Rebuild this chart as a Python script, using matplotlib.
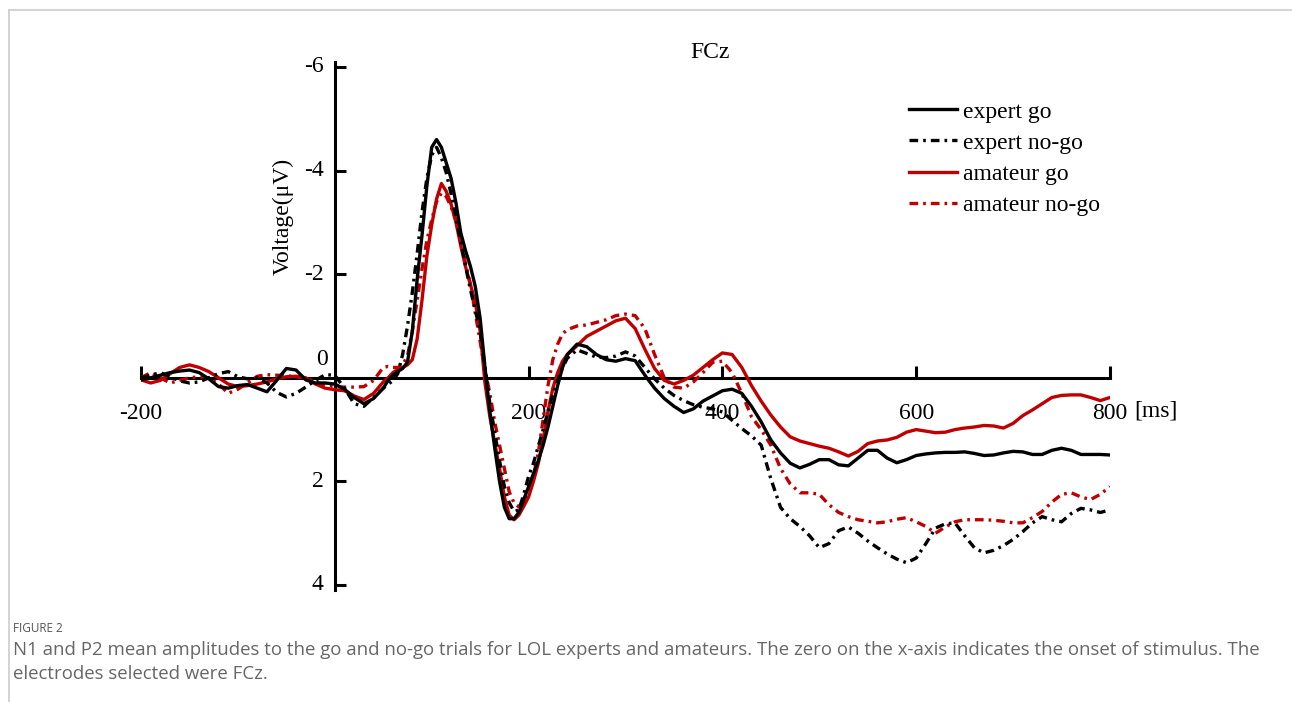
import numpy as np
import matplotlib
matplotlib.use("Agg")
import matplotlib.pyplot as plt
from matplotlib.lines import Line2D

plt.rcParams['font.family'] = ['Liberation Serif', 'DejaVu Serif']
plt.rcParams['axes.unicode_minus'] = False

# sampling grid (ms): 10 ms steps, 5 ms steps around N1/P2
time_ms = np.r_[-200:51:10, 55:241:5, 250:801:10]

expert_go = [
    0.04, 0.0, -0.05, -0.1, -0.13, -0.15, -0.1, 0.02, 0.17, 0.2,
    0.15, 0.13, 0.2, 0.27, 0.05, -0.18, -0.15, 0.04, 0.1, 0.1,
    0.12, 0.22, 0.38, 0.5, 0.4, 0.2,
    0.05, -0.05, -0.12, -0.18, -0.3, -0.9, -1.9, -2.75, -3.7, -4.45,
    -4.6, -4.45, -4.15, -3.85, -3.38, -2.8, -2.45, -2.15, -1.76, -1.15,
    -0.2, 0.65, 1.35, 2.0, 2.5, 2.72, 2.72, 2.6, 2.35, 2.1,
    1.85, 1.6, 1.3, 0.95, 0.55, 0.15, -0.2, -0.45,
    -0.65, -0.6, -0.45, -0.35, -0.32, -0.37, -0.33, -0.05, 0.2, 0.4,
    0.55, 0.67, 0.6, 0.45, 0.35, 0.25, 0.22, 0.3, 0.55, 0.85,
    1.2, 1.45, 1.65, 1.74, 1.67, 1.58, 1.58, 1.68, 1.7, 1.55,
    1.4, 1.4, 1.55, 1.64, 1.58, 1.5, 1.47, 1.45, 1.44, 1.44,
    1.43, 1.46, 1.5, 1.49, 1.45, 1.42, 1.43, 1.48, 1.48, 1.4,
    1.36, 1.4, 1.48, 1.48, 1.48, 1.49,
]

expert_nogo = [
    0.0, -0.05, -0.1, -0.02, 0.06, 0.1, 0.08, 0.0, -0.08, -0.12,
    -0.02, 0.02, 0.0, 0.1, 0.28, 0.37, 0.3, 0.18, 0.05, -0.06,
    -0.05, 0.2, 0.5, 0.55, 0.38, 0.2,
    0.13, 0.05, -0.08, -0.45, -1.0, -1.65, -2.4, -3.2, -3.85, -4.3,
    -4.45, -4.25, -3.96, -3.55, -3.1, -2.62, -2.15, -1.7, -1.3, -0.9,
    -0.2, 0.5, 1.05, 1.6, 2.1, 2.41, 2.58, 2.55, 2.25, 1.9,
    1.65, 1.32, 1.0, 0.65, 0.32, 0.05, -0.2, -0.38,
    -0.54, -0.47, -0.4, -0.39, -0.42, -0.5, -0.42, -0.2, 0.02, 0.2,
    0.34, 0.44, 0.52, 0.57, 0.6, 0.66, 0.82, 0.98, 1.12, 1.3,
    1.95, 2.5, 2.72, 2.87, 3.05, 3.28, 3.2, 2.95, 2.88, 3.0,
    3.15, 3.28, 3.4, 3.5, 3.57, 3.48, 3.2, 2.9, 2.82, 2.8,
    3.05, 3.28, 3.38, 3.33, 3.24, 3.12, 2.97, 2.8, 2.68, 2.74,
    2.78, 2.62, 2.52, 2.55, 2.6, 2.55,
]

amateur_go = [
    0.04, 0.1, 0.05, -0.08, -0.2, -0.25, -0.2, -0.12, 0.0, 0.12,
    0.17, 0.15, 0.12, 0.08, 0.02, -0.02, -0.03, 0.0, 0.12, 0.2,
    0.23, 0.25, 0.35, 0.42, 0.3, 0.08,
    0.0, -0.1, -0.16, -0.2, -0.25, -0.35, -0.75, -1.5, -2.35, -2.95,
    -3.45, -3.75, -3.6, -3.35, -3.0, -2.55, -2.14, -1.8, -1.45, -0.9,
    0.1, 0.75, 1.25, 1.75, 2.3, 2.65, 2.74, 2.65, 2.48, 2.3,
    2.0, 1.65, 1.2, 0.65, 0.2, -0.1, -0.32, -0.45,
    -0.62, -0.8, -0.9, -1.0, -1.1, -1.15, -0.95, -0.55, -0.18, 0.05,
    0.12, 0.05, -0.05, -0.2, -0.35, -0.48, -0.45, -0.2, 0.15, 0.45,
    0.72, 0.95, 1.14, 1.22, 1.27, 1.32, 1.36, 1.43, 1.51, 1.42,
    1.27, 1.22, 1.2, 1.15, 1.05, 1.0, 1.03, 1.06, 1.05, 1.0,
    0.97, 0.95, 0.92, 0.93, 0.97, 0.88, 0.73, 0.62, 0.5, 0.38,
    0.34, 0.33, 0.33, 0.38, 0.44, 0.38,
]

amateur_nogo = [
    0.0, -0.1, 0.0, 0.1, 0.05, 0.0, -0.02, 0.0, 0.12, 0.3,
    0.22, 0.1, -0.03, -0.06, -0.05, -0.04, -0.02, 0.0, 0.08, 0.14,
    0.17, 0.18, 0.18, 0.17, 0.05, -0.2,
    -0.22, -0.2, -0.2, -0.25, -0.42, -0.9, -1.5, -2.1, -2.65, -3.05,
    -3.4, -3.57, -3.5, -3.3, -3.05, -2.65, -2.2, -1.8, -1.25, -0.7,
    -0.15, 0.3, 0.85, 1.3, 1.75, 2.2, 2.42, 2.49, 2.4, 2.15,
    1.9, 1.45, 0.8, 0.15, -0.35, -0.65, -0.85, -0.93,
    -1.0, -1.02, -1.07, -1.12, -1.2, -1.23, -1.2, -0.95, -0.45, 0.0,
    0.18, 0.2, 0.08, -0.1, -0.3, -0.32, -0.1, 0.3, 0.75, 1.0,
    1.3, 1.75, 2.05, 2.22, 2.22, 2.25, 2.45, 2.6, 2.68, 2.74,
    2.77, 2.8, 2.78, 2.73, 2.7, 2.78, 2.87, 3.0, 2.88, 2.78,
    2.74, 2.74, 2.74, 2.75, 2.77, 2.8, 2.8, 2.7, 2.58, 2.4,
    2.25, 2.22, 2.3, 2.35, 2.25, 2.1,
]

labels = ['expert go', 'expert no-go', 'amateur go', 'amateur no-go']
x_ticks = [-200, 200, 400, 600, 800]
y_ticks = [-6, -4, -2, 2, 4]

RED = '#c00000'
LW = 2.4
DASHDOT = (0, (2.6, 1.5, 0.8, 1.5))
FS = 17
W, H = 1292, 702

fig = plt.figure(figsize=(W / 100, H / 100), dpi=100)

# thin page frame
fig.add_artist(Line2D([9 / W, 1], [1 - 10 / H, 1 - 10 / H], color='#cccccc', lw=1.2))
fig.add_artist(Line2D([9 / W, 9 / W], [0, 1 - 10 / H], color='#cccccc', lw=1.2))

# axes placed so that -200..800 ms -> px 141..1110 and -6..4 uV -> px 67..585
px_per_uv = (585 - 67) / 10
top = 67 - 0.1 * px_per_uv
bot = 585 + 0.1 * px_per_uv
ax = fig.add_axes([141 / W, 1 - bot / H, (1110 - 141) / W, (bot - top) / H])

line_kw = dict(lw=LW, solid_joinstyle='round', dash_joinstyle='round')
ax.plot(time_ms, amateur_nogo, color=RED, ls=DASHDOT, zorder=3, **line_kw)
ax.plot(time_ms, amateur_go, color=RED, zorder=3.1, **line_kw)
ax.plot(time_ms, expert_nogo, color='black', ls=DASHDOT, zorder=3.2, **line_kw)
ax.plot(time_ms, expert_go, color='black', zorder=3.3, **line_kw)

ax.set_xlim(-200, 800)
ax.set_ylim(4.1, -6.1)
for s in ['top', 'right']:
    ax.spines[s].set_visible(False)
ax.spines['left'].set_position(('data', 0))
ax.spines['bottom'].set_position(('data', 0))
ax.spines['left'].set_linewidth(2.2)
ax.spines['bottom'].set_linewidth(2.2)
ax.patch.set_alpha(0)

ax.set_xticks(x_ticks)
ax.set_xticklabels([str(v) for v in x_ticks])
ax.set_yticks(y_ticks)
ax.set_yticklabels([str(v) for v in y_ticks])
ax.tick_params(axis='x', direction='in', length=9, width=2.2, pad=18, labelsize=FS)
ax.tick_params(axis='y', direction='in', length=8, width=2.2, pad=8, labelsize=FS)
for lab in ax.get_yticklabels():
    lab.set_verticalalignment('center')

fig.text(322 / W, 1 - 360 / H, '0', fontsize=FS, ha='center', va='center')
fig.text(1134 / W, 1 - 411 / H, '[ms]', fontsize=FS, ha='left', va='center')
fig.text(710 / W, 1 - 52 / H, 'FCz', fontsize=FS, ha='center', va='center')
fig.text(283 / W, 1 - 216 / H, 'Voltage(\u03bcV)', fontsize=FS, rotation=90,
         ha='center', va='center')

handles = [
    Line2D([], [], color='black', lw=LW),
    Line2D([], [], color='black', lw=LW, ls=DASHDOT),
    Line2D([], [], color=RED, lw=LW),
    Line2D([], [], color=RED, lw=LW, ls=DASHDOT),
]
fig.legend(handles, labels, loc='upper left', bbox_to_anchor=(909 / W, 1 - 101 / H),
           frameon=False, fontsize=FS, handlelength=2.05, handletextpad=0.22,
           labelspacing=0.41, borderpad=0, borderaxespad=0)

# caption
cap_font = ['Open Sans', 'DejaVu Sans']
fig.text(13 / W, 1 - 628 / H, 'FIGURE 2', fontsize=8.5, color='#555555',
         family=cap_font, ha='left', va='center')
fig.text(13 / W, 1 - 650 / H,
         'N1 and P2 mean amplitudes to the go and no-go trials for LOL experts and amateurs. '
         'The zero on the x-axis indicates the onset of stimulus. The',
         fontsize=13.4, color='#666666', family=cap_font, ha='left', va='center')
fig.text(13 / W, 1 - 674 / H, 'electrodes selected were FCz.',
         fontsize=13.4, color='#666666', family=cap_font, ha='left', va='center')

fig.savefig('out.png', dpi=100)
